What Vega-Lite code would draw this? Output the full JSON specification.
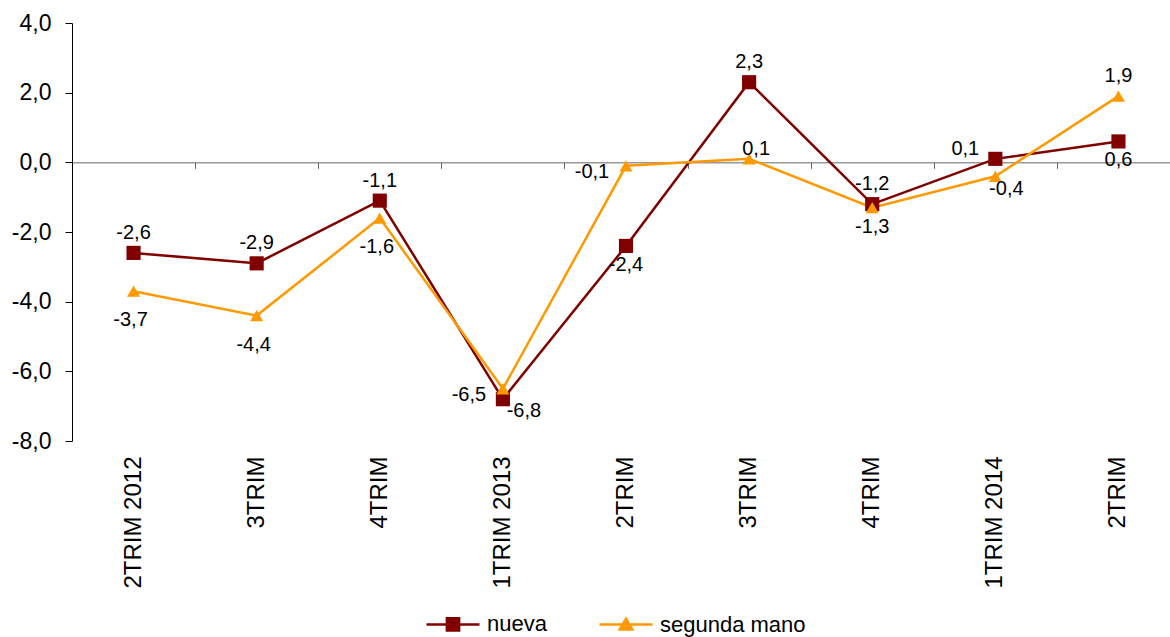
{
  "$schema": "https://vega.github.io/schema/vega-lite/v6.json",
  "autosize": {"type": "none"},
  "padding": {"left": 72, "top": 23, "right": 0, "bottom": 196},
  "width": 1098,
  "height": 418,
  "data": {
    "values": [
      {"periodo": "2TRIM 2012", "serie": "nueva", "valor": -2.6},
      {"periodo": "2TRIM 2012", "serie": "segunda mano", "valor": -3.7},
      {"periodo": "3TRIM|2012", "serie": "nueva", "valor": -2.9},
      {"periodo": "3TRIM|2012", "serie": "segunda mano", "valor": -4.4},
      {"periodo": "4TRIM|2012", "serie": "nueva", "valor": -1.1},
      {"periodo": "4TRIM|2012", "serie": "segunda mano", "valor": -1.6},
      {"periodo": "1TRIM 2013", "serie": "nueva", "valor": -6.8},
      {"periodo": "1TRIM 2013", "serie": "segunda mano", "valor": -6.5},
      {"periodo": "2TRIM|2013", "serie": "nueva", "valor": -2.4},
      {"periodo": "2TRIM|2013", "serie": "segunda mano", "valor": -0.1},
      {"periodo": "3TRIM|2013", "serie": "nueva", "valor": 2.3},
      {"periodo": "3TRIM|2013", "serie": "segunda mano", "valor": 0.1},
      {"periodo": "4TRIM|2013", "serie": "nueva", "valor": -1.2},
      {"periodo": "4TRIM|2013", "serie": "segunda mano", "valor": -1.3},
      {"periodo": "1TRIM 2014", "serie": "nueva", "valor": 0.1},
      {"periodo": "1TRIM 2014", "serie": "segunda mano", "valor": -0.4},
      {"periodo": "2TRIM|2014", "serie": "nueva", "valor": 0.6},
      {"periodo": "2TRIM|2014", "serie": "segunda mano", "valor": 1.9}
    ]
  },
  "encoding": {
    "x": {
      "field": "periodo",
      "type": "ordinal",
      "sort": null,
      "bandPosition": 0.5,
      "scale": {"type": "band", "paddingInner": 0, "paddingOuter": 0, "range": [0, 1108]},
      "axis": null
    },
    "y": {
      "field": "valor",
      "type": "quantitative",
      "scale": {"domain": [-8, 4], "nice": false, "zero": false},
      "axis": {
        "values": [-8, -6, -4, -2, 0, 2, 4],
        "format": ".1f",
        "title": null,
        "grid": false,
        "labelFont": "Liberation Sans",
        "labelFontSize": 23,
        "labelColor": "black",
        "labelPadding": 14,
        "tickSize": 7,
        "tickColor": "black",
        "domainColor": "black"
      }
    },
    "color": {
      "field": "serie",
      "type": "nominal",
      "scale": {"domain": ["nueva", "segunda mano"], "range": ["#800000", "#FF9900"]},
      "legend": {
        "orient": "none",
        "legendX": 353,
        "legendY": 573,
        "direction": "horizontal",
        "title": null,
        "padding": 0,
        "labelFont": "Liberation Sans",
        "labelFontSize": 22,
        "labelColor": "black",
        "labelOffset": 6,
        "columnPadding": 47,
        "symbolSize": 2809,
        "symbolStrokeWidth": 2.5,
        "encode": {
          "symbols": {
            "update": {
              "shape": {"signal": "datum.value == 'nueva' ? 'M-1,0H1M-0.23,-0.23H0.23V0.23H-0.23Z' : 'M-1,0H1M-0.24,0.19L0,-0.22L0.24,0.19Z'"},
              "fill": {"signal": "datum.value == 'nueva' ? '#800000' : '#FF9900'"},
              "stroke": {"signal": "datum.value == 'nueva' ? '#800000' : '#FF9900'"},
              "strokeWidth": {"value": 2.5},
              "opacity": {"value": 1}
            }
          }
        }
      }
    }
  },
  "layer": [
    {
      "mark": {"type": "line", "strokeWidth": 2.5},
      "encoding": {
        "x": {
          "field": "periodo",
          "type": "ordinal",
          "sort": null,
          "bandPosition": 0.5,
          "scale": {"type": "band", "paddingInner": 0, "paddingOuter": 0, "range": [0, 1108]},
          "axis": {
            "orient": "bottom",
            "labelExpr": "split(datum.value, '|')[0]",
            "labelAngle": -90,
            "labelFont": "Liberation Sans",
            "labelFontSize": 24,
            "labelColor": "black",
            "labelPadding": 15,
            "ticks": false,
            "tickSize": 0,
            "domain": false,
            "grid": false,
            "title": null
          }
        }
      }
    },
    {
      "transform": [{"filter": "datum.serie == 'nueva'"}],
      "mark": {"type": "point", "shape": "square", "size": 200, "filled": true, "opacity": 1},
      "encoding": {
        "x": {
          "field": "periodo",
          "type": "ordinal",
          "sort": null,
          "bandPosition": 0.5,
          "scale": {"type": "band", "paddingInner": 0, "paddingOuter": 0, "range": [0, 1108]},
          "axis": {
            "orient": "bottom",
            "offset": -278.67,
            "labels": false,
            "tickBand": "extent",
            "tickSize": 6,
            "tickColor": "#666666",
            "domainColor": "#666666",
            "grid": false,
            "title": null
          }
        }
      }
    },
    {
      "transform": [{"filter": "datum.serie == 'segunda mano'"}],
      "mark": {"type": "point", "shape": "triangle-up", "size": 170, "filled": true, "opacity": 1}
    },
    {
      "transform": [{"filter": "indexof(['nueva:2TRIM 2012', 'nueva:3TRIM|2012', 'nueva:4TRIM|2012', 'nueva:3TRIM|2013', 'nueva:4TRIM|2013', 'segunda mano:2TRIM|2014'], datum.serie + ':' + datum.periodo) >= 0"}],
      "mark": {"type": "text", "dy": -20, "font": "Liberation Sans", "fontSize": 20},
      "encoding": {"text": {"field": "valor", "type": "quantitative", "format": ".1f"}, "color": {"value": "black"}}
    },
    {
      "transform": [{"filter": "indexof(['nueva:2TRIM|2013', 'nueva:2TRIM|2014', 'segunda mano:4TRIM|2013'], datum.serie + ':' + datum.periodo) >= 0"}],
      "mark": {"type": "text", "dy": 19, "font": "Liberation Sans", "fontSize": 20},
      "encoding": {"text": {"field": "valor", "type": "quantitative", "format": ".1f"}, "color": {"value": "black"}}
    },
    {
      "transform": [{"filter": "indexof(['segunda mano:2TRIM 2012', 'segunda mano:3TRIM|2012', 'segunda mano:4TRIM|2012'], datum.serie + ':' + datum.periodo) >= 0"}],
      "mark": {"type": "text", "dx": -3, "dy": 29, "font": "Liberation Sans", "fontSize": 20},
      "encoding": {"text": {"field": "valor", "type": "quantitative", "format": ".1f"}, "color": {"value": "black"}}
    },
    {
      "transform": [{"filter": "indexof(['segunda mano:1TRIM 2013', 'segunda mano:2TRIM|2013'], datum.serie + ':' + datum.periodo) >= 0"}],
      "mark": {"type": "text", "dx": -34, "dy": 6, "font": "Liberation Sans", "fontSize": 20},
      "encoding": {"text": {"field": "valor", "type": "quantitative", "format": ".1f"}, "color": {"value": "black"}}
    },
    {
      "transform": [{"filter": "datum.serie == 'nueva' && datum.periodo == '1TRIM 2014'"}],
      "mark": {"type": "text", "dx": -30, "dy": -10, "font": "Liberation Sans", "fontSize": 20},
      "encoding": {"text": {"field": "valor", "type": "quantitative", "format": ".1f"}, "color": {"value": "black"}}
    },
    {
      "transform": [{"filter": "datum.serie == 'nueva' && datum.periodo == '1TRIM 2013'"}],
      "mark": {"type": "text", "dx": 21, "dy": 12, "font": "Liberation Sans", "fontSize": 20},
      "encoding": {"text": {"field": "valor", "type": "quantitative", "format": ".1f"}, "color": {"value": "black"}}
    },
    {
      "transform": [{"filter": "datum.serie == 'segunda mano' && datum.periodo == '3TRIM|2013'"}],
      "mark": {"type": "text", "dx": 7, "dy": -10, "font": "Liberation Sans", "fontSize": 20},
      "encoding": {"text": {"field": "valor", "type": "quantitative", "format": ".1f"}, "color": {"value": "black"}}
    },
    {
      "transform": [{"filter": "datum.serie == 'segunda mano' && datum.periodo == '1TRIM 2014'"}],
      "mark": {"type": "text", "dx": 11, "dy": 13, "font": "Liberation Sans", "fontSize": 20},
      "encoding": {"text": {"field": "valor", "type": "quantitative", "format": ".1f"}, "color": {"value": "black"}}
    }
  ],
  "resolve": {"axis": {"x": "independent"}},
  "config": {
    "view": {"stroke": null},
    "locale": {
      "number": {"decimal": ",", "thousands": ".", "grouping": [3], "currency": ["", " €"], "minus": "-"}
    }
  }
}
